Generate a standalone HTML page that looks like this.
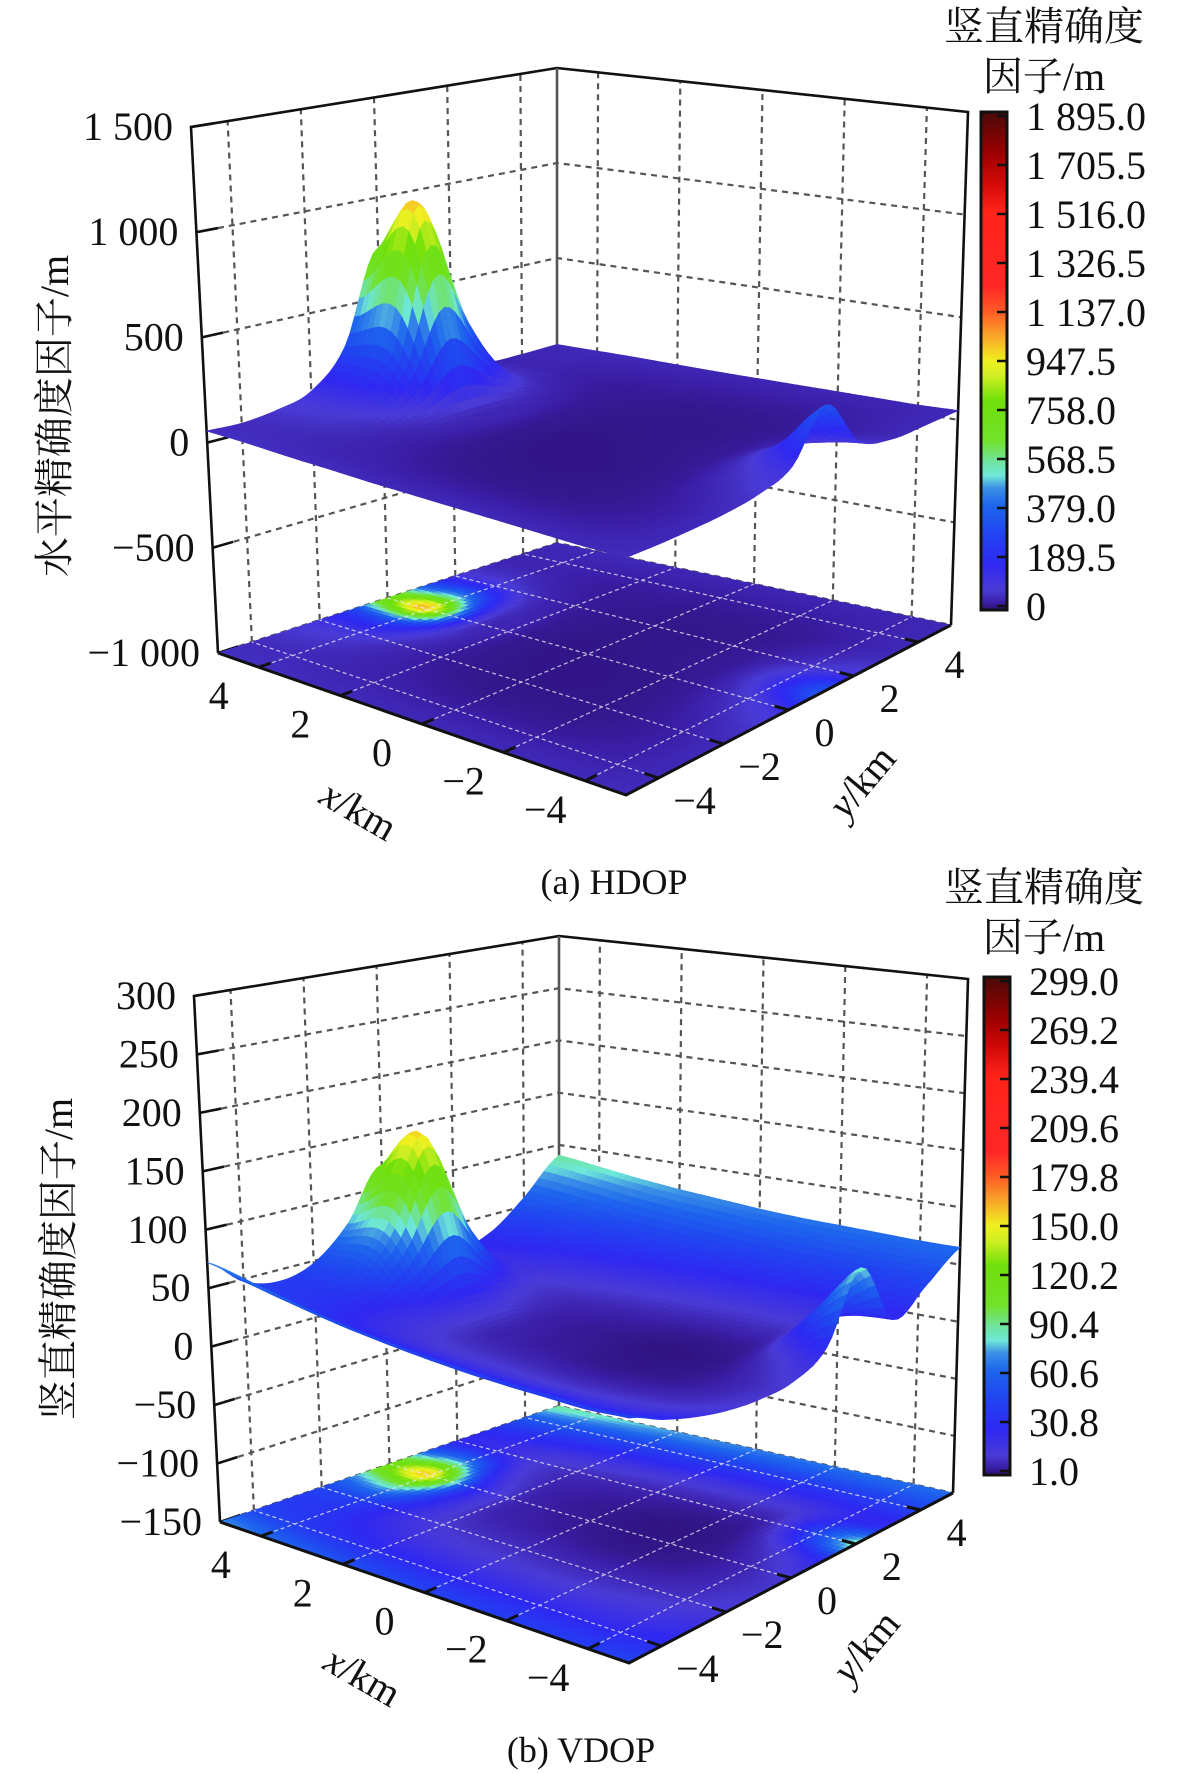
<!DOCTYPE html>
<html><head><meta charset="utf-8">
<style>
html,body{margin:0;padding:0;background:#fff;}
svg{display:block;}
text{font-family:"Liberation Serif","Noto Serif CJK SC","Noto Sans CJK SC",serif;fill:#111;}
</style></head>
<body>
<svg id="fig" width="1181" height="1774" viewBox="0 0 1181 1774" xmlns="http://www.w3.org/2000/svg">
<defs></defs>
<g id="panelA"></g>
<g id="panelB"></g>
<text x="614" y="894" font-size="36" text-anchor="middle">(a) HDOP</text>
<text x="581" y="1762" font-size="36" text-anchor="middle">(b) VDOP</text>
</svg>
<script>
// ---- data ----
const xCoords = [-5,-4,-3,-2,-1,0,1,2,3,4,5];
const yCoords = [-5,-4,-3,-2,-1,0,1,2,3,4,5];
const axisTicksXY = [4,2,0,-2,-4];
// HDOP (rows = x from -5..5, cols = y from -5..5)
const hdopZ = [
 [50,45,45,50,70,130,350,110,50,45,45],
 [45,35,30,30,45,75,140,65,35,35,40],
 [45,30,22,20,22,28,35,28,22,28,40],
 [45,28,18,15,15,16,18,17,18,25,40],
 [45,28,17,14,13,14,15,15,17,25,40],
 [45,28,17,14,13,13,14,15,17,25,40],
 [45,30,20,16,15,15,16,17,20,27,40],
 [48,35,28,25,28,35,30,24,22,28,42],
 [50,40,40,50,90,150,100,50,30,32,45],
 [55,48,60,110,330,1000,470,120,45,38,45],
 [55,50,70,120,300,750,380,110,45,40,45]
];
const hdopZTicks = [1500,1000,500,0,-500,-1000];
const hdopZTickLabels = ["1 500","1 000","500","0","\u2212500","\u22121 000"];
const hdopCbarLabels = ["1 895.0","1 705.5","1 516.0","1 326.5","1 137.0","947.5","758.0","568.5","379.0","189.5","0"];
// VDOP
const vdopZ = [
 [45,32,22,15,12,14,30,85,28,45,65],
 [42,28,18,11,8,8,16,45,25,42,65],
 [42,27,16,9,5,4,5,10,18,40,66],
 [42,27,15,8,4,3,3,6,17,40,67],
 [43,27,15,8,4,3,3,6,17,40,68],
 [45,28,16,9,5,4,4,7,18,42,70],
 [48,30,17,10,6,5,5,8,20,44,73],
 [52,32,20,13,10,10,8,10,22,46,76],
 [58,36,26,24,32,40,22,14,25,50,80],
 [65,42,36,45,85,155,75,25,30,55,85],
 [72,48,40,48,75,120,65,28,33,58,90]
];
const vdopZTicks = [300,250,200,150,100,50,0,-50,-100,-150];
const vdopZTickLabels = ["300","250","200","150","100","50","0","\u221250","\u2212100","\u2212150"];
const vdopCbarLabels = ["299.0","269.2","239.4","209.6","179.8","150.0","120.2","90.4","60.6","30.8","1.0"];

// ---- colormap ----
const cmapStops = [
 [0,'#2a0f6e'],[0.015,'#3b1fa8'],[0.04,'#4a3bd6'],[0.09,'#2f28f2'],[0.16,'#2048f0'],
 [0.21,'#1e66ee'],[0.245,'#3c8fe6'],[0.27,'#6ee8d8'],[0.3,'#6fe39a'],[0.34,'#72e22a'],
 [0.42,'#6fe00a'],[0.47,'#cfee22'],[0.5,'#f0f020'],[0.55,'#f8a628'],[0.6,'#ff5a24'],
 [0.65,'#ff2626'],[0.8,'#ff2418'],[0.86,'#d00808'],[0.92,'#9a0000'],[1,'#4a0a0a']];
function hex(c){return [parseInt(c.substr(1,2),16),parseInt(c.substr(3,2),16),parseInt(c.substr(5,2),16)];}
function cmap(f){
  f=Math.max(0,Math.min(1,f));
  for(let i=1;i<cmapStops.length;i++){
    if(f<=cmapStops[i][0]){
      const a=cmapStops[i-1],b=cmapStops[i];const t=(f-a[0])/(b[0]-a[0]);
      const ca=hex(a[1]),cb=hex(b[1]);
      return 'rgb('+ca.map((v,k)=>Math.round(v+(cb[k]-v)*t)).join(',')+')';
    }
  }
  return cmapStops[cmapStops.length-1][1];
}
const NS='http://www.w3.org/2000/svg';
function el(tag,attrs,parent){const e=document.createElementNS(NS,tag);for(const k in attrs)e.setAttribute(k,attrs[k]);parent.appendChild(e);return e;}

function cubic(p0,p1,p2,p3,t){return 0.5*(2*p1+(-p0+p2)*t+(2*p0-5*p1+4*p2-p3)*t*t+(-p0+3*p1-3*p2+p3)*t*t*t);}
function sample(grid,fx,fy){
  const n=grid.length-1;
  const ix=Math.min(Math.floor(fx),n-1), iy=Math.min(Math.floor(fy),n-1);
  const tx=fx-ix, ty=fy-iy;
  const g=(i,j)=>grid[Math.max(0,Math.min(n,i))][Math.max(0,Math.min(n,j))];
  const rows=[];
  for(let di=-1;di<=2;di++){rows.push(cubic(g(ix+di,iy-1),g(ix+di,iy),g(ix+di,iy+1),g(ix+di,iy+2),ty));}
  return Math.max(0,cubic(rows[0],rows[1],rows[2],rows[3],tx));
}

function drawPanel(root,cfg){
  const C=cfg.c;
  const lerp=(a,b,t)=>[a[0]+(b[0]-a[0])*t,a[1]+(b[1]-a[1])*t];
  function bil(F,L,R,B,s,t){
    return [F[0]*(1-s)*(1-t)+L[0]*s*(1-t)+R[0]*(1-s)*t+B[0]*s*t,
            F[1]*(1-s)*(1-t)+L[1]*s*(1-t)+R[1]*(1-s)*t+B[1]*s*t];}
  const xmin=xCoords[0],xmax=xCoords[xCoords.length-1],ymin=yCoords[0],ymax=yCoords[yCoords.length-1];
  function P(x,y,z){
    const s=(x-xmin)/(xmax-xmin), t=(y-ymin)/(ymax-ymin);
    const b=bil(C.F,C.L,C.R,C.B,s,t), tp=bil(C.Ft,C.Lt,C.Rt,C.Bt,s,t);
    const h=(z-cfg.zmin)/(cfg.zmax-cfg.zmin);
    return lerp(b,tp,h);
  }
  const pt=p=>p[0].toFixed(1)+','+p[1].toFixed(1);
  const g=el('g',{},root);
  const wall=el('g',{stroke:'#555',"stroke-width":2.2,"stroke-dasharray":'6 5',fill:'none'},g);
  
  
  cfg.zTicks.forEach(z=>{
    const a=P(xmax,ymin,z),b=P(xmax,ymax,z),c=P(xmin,ymax,z);
    el('polyline',{points:pt(a)+' '+pt(b)+' '+pt(c)},wall);
  });
  axisTicksXY.forEach(v=>{
    el('line',{x1:P(xmax,v,cfg.zmin)[0],y1:P(xmax,v,cfg.zmin)[1],x2:P(xmax,v,cfg.zmax)[0],y2:P(xmax,v,cfg.zmax)[1]},wall);
    el('line',{x1:P(v,ymax,cfg.zmin)[0],y1:P(v,ymax,cfg.zmin)[1],x2:P(v,ymax,cfg.zmax)[0],y2:P(v,ymax,cfg.zmax)[1]},wall);
  });
  const fr=el('g',{stroke:'#111',"stroke-width":2.6,fill:'none'},g);
  
  
  el('polyline',{points:[C.L,C.Lt,C.Bt,C.Rt,C.R].map(pt).join(' ')},fr);
  el('line',{x1:C.B[0],y1:C.B[1],x2:C.Bt[0],y2:C.Bt[1],stroke:'#555'},fr);
  cfg.zTicks.forEach((z,i)=>{
    const a=P(xmax,ymin,z),b=P(xmax,ymin+0.6,z);
    el('line',{x1:a[0],y1:a[1],x2:b[0],y2:b[1]},fr);
    const t=el('text',{x:a[0]-18,y:a[1]+13,"font-size":40,"text-anchor":'end'},g);
    t.textContent=cfg.zLabels[i];
    
    
  });
  const N=70;
  const fx=i=>i/N*(xCoords.length-1);
  const Z=[];
  for(let i=0;i<=N;i++){Z.push([]);for(let j=0;j<=N;j++)Z[i].push(sample(cfg.grid,fx(i),fx(j)));}
  const X=i=>xmin+(xmax-xmin)*i/N, Y=j=>ymin+(ymax-ymin)*j/N;
  const cells=[];
  for(let i=0;i<N;i++)for(let j=0;j<N;j++)cells.push([i,j]);
  cells.sort((a,b)=>((b[0]+b[1])-(a[0]+a[1]))||(b[0]-a[0]));
  const floor=el('g',{},g);
  
  
  const surf=el('g',{},g);
  
  
  cells.forEach(([i,j])=>{
    const zav=(Z[i][j]+Z[i+1][j]+Z[i][j+1]+Z[i+1][j+1])/4;
    const col=cmap((zav-cfg.cmin)/(cfg.cmax-cfg.cmin));
    const fp=[P(X(i),Y(j),cfg.zmin),P(X(i+1),Y(j),cfg.zmin),P(X(i+1),Y(j+1),cfg.zmin),P(X(i),Y(j+1),cfg.zmin)];
    el('polygon',{points:fp.map(pt).join(' '),fill:col,stroke:col,"stroke-width":0.7},floor);
  });
  const fg=el('g',{stroke:'#e8e8f0',"stroke-width":1.2,"stroke-dasharray":'4 3',opacity:0.8},g);
  
  
  axisTicksXY.forEach(v=>{
    let a=P(v,ymin,cfg.zmin),b=P(v,ymax,cfg.zmin);el('line',{x1:a[0],y1:a[1],x2:b[0],y2:b[1]},fg);
    a=P(xmin,v,cfg.zmin);b=P(xmax,v,cfg.zmin);el('line',{x1:a[0],y1:a[1],x2:b[0],y2:b[1]},fg);
  });
  g.appendChild(surf);
  cells.forEach(([i,j])=>{
    const zav=(Z[i][j]+Z[i+1][j]+Z[i][j+1]+Z[i+1][j+1])/4;
    const col=cmap((zav-cfg.cmin)/(cfg.cmax-cfg.cmin));
    const sp=[P(X(i),Y(j),Z[i][j]),P(X(i+1),Y(j),Z[i+1][j]),P(X(i+1),Y(j+1),Z[i+1][j+1]),P(X(i),Y(j+1),Z[i][j+1])];
    el('polygon',{points:sp.map(pt).join(' '),fill:col,stroke:col,"stroke-width":0.7},surf);
  });
  const fe=el('g',{stroke:'#111',"stroke-width":3,fill:'none'},g);
  
  
  el('polyline',{points:[C.L,C.F,C.R].map(pt).join(' ')},fe);
  axisTicksXY.forEach(v=>{
    let a=P(v,ymin,cfg.zmin),b=P(v,ymin+0.35,cfg.zmin);el('line',{x1:a[0],y1:a[1],x2:b[0],y2:b[1]},fe);
    let tx=el('text',{x:a[0]-40,y:a[1]+42,"font-size":40,"text-anchor":'middle'},g);
    tx.textContent=v<0?'\u2212'+(-v):String(v);
    
    
    a=P(xmin,v,cfg.zmin);b=P(xmin+0.35,v,cfg.zmin);el('line',{x1:a[0],y1:a[1],x2:b[0],y2:b[1]},fe);
    let ty=el('text',{x:a[0]+36,y:a[1]+36,"font-size":40,"text-anchor":'middle'},g);
    ty.textContent=v<0?'\u2212'+(-v):String(v);
    
    
  });
  const xt=el('text',{x:0,y:0,"font-size":40,"text-anchor":'middle',transform:`translate(${cfg.xt[0]},${cfg.xt[1]}) rotate(30)`},g);
  xt.innerHTML='<tspan font-style="italic">x</tspan>/km';
  
  
  const yt=el('text',{x:0,y:0,"font-size":40,"text-anchor":'middle',transform:`translate(${cfg.yt[0]},${cfg.yt[1]}) rotate(-50)`},g);
  yt.innerHTML='<tspan font-style="italic">y</tspan>/km';
  
  
  const zt=el('text',{x:0,y:0,"font-size":40,"text-anchor":'middle',transform:`translate(${cfg.zt[0]},${cfg.zt[1]}) rotate(-90)`},g);
  zt.textContent=cfg.zTitle;
  
  
  const cb=cfg.cb;
  const gid='grad'+cfg.id;
  const lg=el('linearGradient',{id:gid,x1:0,y1:1,x2:0,y2:0},document.querySelector('defs'));
  cmapStops.forEach(s=>el('stop',{offset:s[0],"stop-color":s[1]},lg));
  const cbg=el('g',{},g);
  
  
  el('rect',{x:cb.x,y:cb.y,width:cb.w,height:cb.h,fill:`url(#${gid})`,stroke:'#111',"stroke-width":3},cbg);
  cfg.cbLabels.forEach((lab,i)=>{
    const yy=cb.y+4+(cb.h-8)*i/(cfg.cbLabels.length-1);
    el('line',{x1:cb.x+cb.w-10,y1:yy,x2:cb.x+cb.w,y2:yy,stroke:'#111',"stroke-width":2.5},cbg);
    const t=el('text',{x:cb.x+cb.w+19,y:yy+14,"font-size":40},cbg);
    t.textContent=lab;
    
    
  });
  const t1=el('text',{x:1044,y:cfg.cbt,"font-size":40,"text-anchor":'middle'},cbg);
  t1.textContent='竖直精确度';
  
  
  const t2=el('text',{x:1044,y:cfg.cbt+50,"font-size":40,"text-anchor":'middle'},cbg);
  t2.textContent='因子/m';
  
  
}

drawPanel(document.getElementById('panelA'),{
  id:'a',grid:hdopZ,zmin:-1000,zmax:1500,cmin:0,cmax:1895,
  zTicks:hdopZTicks,zLabels:hdopZTickLabels,cbLabels:hdopCbarLabels,
  zTitle:'水平精确度因子/m',
  c:{F:[626,795],L:[218,653],R:[951,625],B:[557,543],Ft:[626,230],Lt:[191,127],Rt:[968,112],Bt:[557,68]},
  xt:[352,822],yt:[872,790],zt:[68,416],
  cb:{x:981,y:112,w:26,h:498},cbt:40
});
drawPanel(document.getElementById('panelB'),{
  id:'b',grid:vdopZ,zmin:-150,zmax:300,cmin:1,cmax:299,
  zTicks:vdopZTicks,zLabels:vdopZTickLabels,cbLabels:vdopCbarLabels,
  zTitle:'竖直精确度因子/m',
  c:{F:[629,1663],L:[220,1522],R:[953,1493],B:[559,1406],Ft:[629,1098],Lt:[194,996],Rt:[968,979],Bt:[559,936]},
  xt:[356,1688],yt:[876,1655],zt:[72,1259],
  cb:{x:984,y:977,w:26,h:498},cbt:901
});
</script>
</body></html>
